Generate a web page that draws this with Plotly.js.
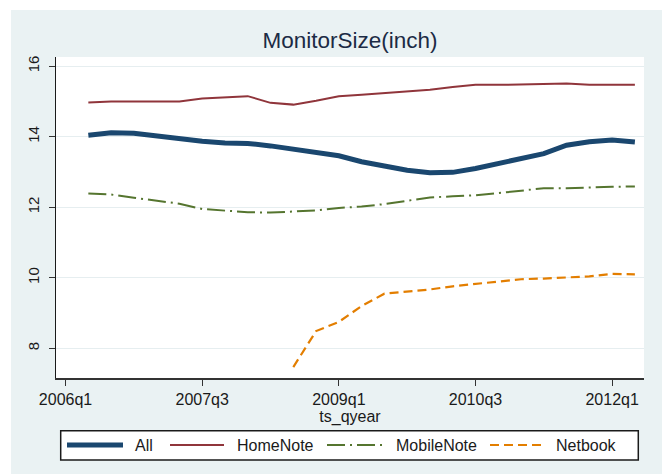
<!DOCTYPE html>
<html>
<head>
<meta charset="utf-8">
<script src="https://cdn.plot.ly/plotly-3.0.1.min.js"></script>
<style>
  html, body { margin: 0; padding: 0; background: #ffffff; width: 668px; height: 474px; overflow: hidden; }
  #chart { position: absolute; left: 11px; top: 10px; width: 651px; height: 464px; }
</style>
</head>
<body>
<div id="chart"></div>
<script>
// ---- data ----
const quarters = ["2006q2","2006q3","2006q4","2007q1","2007q2","2007q3","2007q4","2008q1",
                  "2008q2","2008q3","2008q4","2009q1","2009q2","2009q3","2009q4","2010q1",
                  "2010q2","2010q3","2010q4","2011q1","2011q2","2011q3","2011q4","2012q1","2012q2"];
const seriesNames = ["All", "HomeNote", "MobileNote", "Netbook"];
const allSize = [14.04, 14.11, 14.10, 14.02, 13.95, 13.87, 13.82, 13.81, 13.74, 13.65, 13.57, 13.46,
                 13.29, 13.16, 13.05, 12.98, 12.99, 13.10, 13.24, 13.38, 13.52, 13.76, 13.86, 13.91, 13.85];
const homeNote = [14.97, 15.00, 15.00, 15.00, 15.00, 15.08, 15.11, 15.15, 14.96, 14.91, 15.02, 15.15,
                  15.19, 15.24, 15.28, 15.33, 15.41, 15.47, 15.47, 15.49, 15.51, 15.51, 15.47, 15.47, 15.47];
const mobileNote = [12.39, 12.36, 12.27, 12.18, 12.10, 11.95, 11.91, 11.86, 11.85, 11.88, 11.91, 11.98,
                    12.02, 12.09, 12.19, 12.28, 12.31, 12.34, 12.40, 12.48, 12.54, 12.54, 12.57, 12.58, 12.59];
const netbook = [null, null, null, null, null, null, null, null, null,
                 7.47, 8.49, 8.75, 9.20, 9.55, 9.60, 9.67, 9.76, 9.83, 9.91, 9.96, 9.98, 10.01, 10.04, 10.11, 10.10];
const tickLabels = ["2006q1", "2007q3", "2009q1", "2010q3", "2012q1"];
const yTicks = [8, 10, 12, 14, 16];

// quarter label -> quarter index counted from 2006q1
function qIndex(s) {
  const y = parseInt(s.slice(0, 4), 10);
  const q = parseInt(s.slice(5), 10);
  return (y - 2006) * 4 + (q - 1);
}
const xs = quarters.map(qIndex);
const tickVals = tickLabels.map(qIndex);

const colors = ["#1a476f", "#90353b", "#55752f", "#e37e00"];
const widths = [5, 2, 2, 2.2];
const dashes = ["solid", "solid", "18px,5px,2px,5px", "9px,5px"];
const values = [allSize, homeNote, mobileNote, netbook];

const traces = values.map((v, i) => ({
  type: "scatter", mode: "lines", name: seriesNames[i], x: xs, y: v,
  line: { color: colors[i], width: widths[i], dash: dashes[i] },
  connectgaps: false, showlegend: false, hoverinfo: "skip"
}));

// ---- layout geometry (pixels of the 668x474 page) ----
const divLeft = 11, divTop = 10, divW = 651, divH = 464;
const mL = 45, mR = 18, mT = 47, mB = 96;
const plotX0 = divLeft + mL, plotX1 = divLeft + divW - mR;
const plotY0 = divTop + mT, plotY1 = divTop + divH - mB;
const px = X => (X - plotX0) / (plotX1 - plotX0);
const py = Y => (plotY1 - Y) / (plotY1 - plotY0);

const font = "Liberation Sans, Arial, sans-serif";
const txt = "#1a1a1a";

// manual legend (Stata style, long samples)
const legY = 445;
const legSamples = [[67, 123], [170, 224], [327, 382], [490, 542]];
const legText = [133, 235, 394, 554];
const shapes = [{
  type: "rect", xref: "paper", yref: "paper",
  x0: px(60.7), x1: px(638.3), y0: py(460), y1: py(430.7),
  fillcolor: "#ffffff", line: { color: "#1a1a1a", width: 1.5 }, layer: "above"
}];
legSamples.forEach((s, i) => shapes.push({
  type: "line", xref: "paper", yref: "paper",
  x0: px(s[0]), x1: px(s[1]), y0: py(legY), y1: py(legY),
  line: { color: colors[i], width: widths[i], dash: dashes[i] }, layer: "above"
}));
const annotations = seriesNames.map((n, i) => ({
  text: n, xref: "paper", yref: "paper", x: px(legText[i]), y: py(legY),
  xanchor: "left", yanchor: "middle", showarrow: false,
  font: { family: font, size: 16, color: txt }
}));

const layout = {
  width: divW, height: divH,
  margin: { l: mL, r: mR, t: mT, b: mB, pad: 0 },
  paper_bgcolor: "#eaf2f3",
  plot_bgcolor: "#ffffff",
  font: { family: font, size: 16, color: txt },
  title: {
    text: "MonitorSize(inch)", xref: "paper", x: 0.5, xanchor: "center",
    yref: "container", y: 1 - 30 / divH, yanchor: "middle",
    font: { family: font, size: 22.5, color: "#1c2b45" }
  },
  xaxis: {
    range: [-0.42, 25.4], tickmode: "array", tickvals: tickVals, ticktext: tickLabels,
    ticks: "outside", ticklen: 6, tickwidth: 1.2, tickcolor: "#333333",
    showline: true, linecolor: "#333333", linewidth: 1.5,
    showgrid: false, zeroline: false,
    tickfont: { family: font, size: 16, color: txt },
    title: { text: "ts_qyear", standoff: 0, font: { family: font, size: 16, color: txt } },
    automargin: false, fixedrange: true
  },
  yaxis: {
    range: [7.16, 16.26], tickmode: "array", tickvals: yTicks,
    ticks: "outside", ticklen: 6, tickwidth: 1.2, tickcolor: "#333333",
    tickangle: -90, ticklabelstandoff: 4,
    showline: true, linecolor: "#1a1a1a", linewidth: 1.5,
    showgrid: true, gridcolor: "#e6eef0", gridwidth: 1, zeroline: false,
    tickfont: { family: font, size: 15, color: txt },
    automargin: false, fixedrange: true
  },
  shapes: shapes,
  annotations: annotations,
  showlegend: false
};

Plotly.newPlot("chart", traces, layout, { displayModeBar: false, staticPlot: true });
</script>
</body>
</html>
